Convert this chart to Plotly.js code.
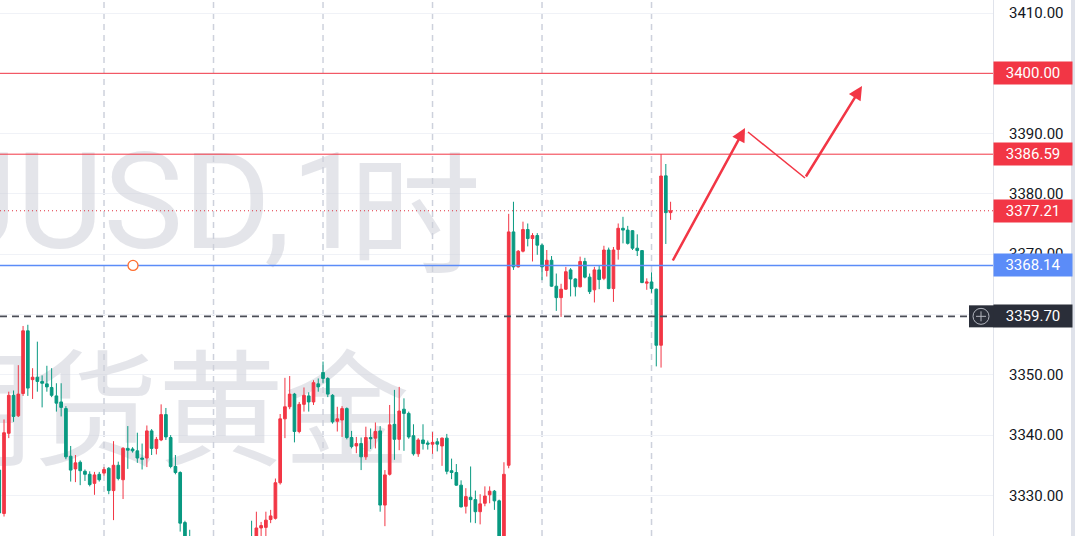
<!DOCTYPE html>
<html><head><meta charset="utf-8">
<script src="https://cdn.plot.ly/plotly-3.0.1.min.js"></script>
<style>html,body{margin:0;padding:0;background:#fff;overflow:hidden}#chart{width:1075px;height:536px}</style>
</head><body><div id="chart"></div>
<script>
// XAUUSD 1h candles (left part of the view)
const opens  = [3334.2,3327.0,3340.3,3346.6,3343.2,3346.9,3357.3,3349.2,3349.6,3348.9,3348.5,3347.9,3346.5,3345.5,3344.4,3336.5,3334.4,3335.5,3334.0,3333.5,
3332.0,3333.5,3333.7,3334.5,3330.8,3335.0,3332.6,3337.8,3337.7,3337.4,3336.2,3336.2,3340.7,3337.8,3339.2,3343.4,3339.6,3334.8,3333.8,3325.5,
3322.5,3320.0,3317.0,3318.5,3316.0,3315.0,3316.5,3315.0,3317.0,3318.5,3317.5,3319.5,3321.0,3323.0,3321.8,3324.6,3324.7,3326.0,3326.2,3332.1,
3342.7,3344.7,3346.8,3340.6,3345.1,3346.5,3345.5,3348.5,3350.4,3349.4,3346.6,3342.3,3342.5,3344.4,3339.6,3338.2,3338.6,3336.4,3339.6,3339.5,
3340.7,3328.4,3333.5,3341.8,3339.3,3344.3,3343.6,3339.9,3336.9,3339.2,3338.7,3338.5,3338.9,3338.2,3339.5,3334.1,3333.8,3331.7,3328.2,3329.7,
3329.3,3327.3,3328.7,3330.1,3330.7,3329.1,3321.5,3335.0,3373.7,3367.9,3370.5,3374.1,3372.6,3373.1,3371.5,3367.3,3369.0,3364.7,3362.8,3364.2,
3367.4,3365.9,3364.6,3368.8,3366.2,3364.1,3367.4,3366.0,3370.7,3364.3,3370.8,3374.3,3374.0,3373.9,3371.0,3370.6,3365.2,3365.4,3364.2,3354.9,
3383.0,3376.9];
const highs  = [3334.5,3342.6,3347.2,3347.4,3351.6,3358.1,3358.3,3351.1,3355.5,3349.9,3351.5,3351.1,3348.6,3348.6,3344.8,3338.2,3336.7,3335.8,3334.3,3334.0,
3333.9,3333.9,3334.7,3334.7,3339.0,3335.6,3338.0,3341.5,3338.0,3340.4,3338.6,3341.6,3341.0,3339.7,3345.1,3344.5,3340.0,3336.7,3334.0,3325.8,
3324.3,3321.5,3320.0,3319.5,3317.5,3318.0,3318.5,3318.8,3320.5,3320.0,3321.0,3322.5,3323.0,3325.8,3327.3,3325.6,3327.3,3327.6,3332.8,3343.5,
3349.5,3349.8,3347.0,3345.5,3347.9,3347.1,3349.1,3349.4,3352.2,3349.6,3346.8,3344.7,3344.8,3344.6,3340.7,3339.7,3339.6,3341.4,3341.1,3342.1,
3341.5,3334.2,3345.0,3347.5,3348.0,3346.1,3343.9,3341.8,3339.5,3341.8,3339.1,3340.5,3339.5,3339.6,3340.2,3336.1,3335.2,3332.5,3331.2,3334.8,
3330.8,3330.2,3331.5,3331.5,3330.9,3329.3,3335.5,3376.7,3378.7,3370.7,3375.4,3375.1,3373.5,3373.5,3371.8,3370.7,3369.7,3366.8,3365.1,3367.9,
3367.7,3366.0,3369.6,3369.4,3366.8,3367.9,3368.2,3371.4,3371.1,3371.2,3375.1,3376.2,3374.7,3374.0,3373.3,3370.7,3366.0,3367.0,3364.3,3386.59,
3384.96,3378.7];
const lows   = [3322.5,3326.5,3339.5,3342.2,3343.0,3346.5,3346.5,3346.0,3347.2,3344.6,3347.2,3346.3,3343.9,3343.1,3336.0,3332.3,3332.2,3331.7,3332.4,3331.5,
3330.1,3332.3,3333.3,3330.2,3325.9,3332.5,3329.4,3334.4,3337.1,3335.4,3334.3,3334.7,3336.7,3336.8,3339.0,3339.2,3334.5,3333.5,3324.0,3320.0,
3318.5,3315.5,3315.0,3314.0,3312.5,3313.5,3313.8,3314.0,3316.0,3316.2,3316.8,3318.5,3319.8,3320.5,3320.5,3322.8,3323.0,3325.4,3326.0,3331.8,
3339.5,3344.3,3338.8,3340.3,3343.9,3343.9,3345.0,3347.2,3348.6,3346.3,3341.9,3340.6,3339.7,3339.3,3337.8,3337.0,3334.2,3335.9,3337.7,3337.8,
3327.3,3324.9,3333.3,3335.9,3337.5,3337.4,3339.4,3336.6,3336.4,3337.6,3337.6,3336.9,3337.3,3334.9,3333.5,3332.7,3331.6,3328.0,3327.0,3325.5,
3325.4,3325.2,3328.2,3328.7,3327.6,3320.5,3320.8,3334.5,3367.4,3367.8,3370.3,3371.3,3368.8,3369.9,3365.7,3366.3,3364.6,3360.6,3359.6,3364.1,
3363.0,3363.0,3364.5,3366.0,3363.4,3362.0,3364.2,3365.7,3364.2,3362.1,3369.1,3371.8,3371.6,3370.7,3369.7,3365.2,3364.1,3363.6,3351.4,3351.2,
3371.7,3375.7];
const closes = [3327.1,3340.4,3346.6,3343.1,3346.8,3357.3,3347.8,3349.6,3348.9,3348.6,3348.0,3346.6,3345.3,3344.6,3336.4,3334.2,3335.4,3334.1,3333.5,3331.8,
3333.4,3332.6,3334.3,3330.8,3335.0,3332.8,3337.8,3337.5,3337.4,3336.2,3336.0,3340.7,3337.8,3339.3,3343.4,3339.7,3334.8,3333.8,3325.4,3322.5,
3320.0,3317.0,3318.5,3316.0,3314.5,3316.5,3315.0,3317.0,3318.5,3317.5,3319.5,3321.0,3322.5,3321.8,3324.6,3325.0,3325.9,3326.6,3332.1,3342.7,
3344.7,3346.8,3340.6,3345.1,3346.6,3345.5,3348.7,3348.0,3349.4,3346.8,3342.2,3342.7,3344.4,3339.6,3338.1,3338.6,3336.4,3339.6,3339.4,3340.6,
3328.4,3333.4,3341.7,3339.3,3344.0,3343.6,3339.7,3336.9,3339.2,3338.6,3338.5,3338.8,3338.5,3339.5,3334.0,3333.8,3331.7,3328.1,3329.8,3329.3,
3327.3,3328.6,3329.9,3330.7,3329.1,3321.5,3333.5,3373.7,3367.9,3370.5,3374.1,3372.6,3373.1,3371.5,3367.9,3369.0,3364.7,3362.8,3364.2,3367.1,
3365.9,3364.6,3368.8,3366.2,3363.8,3367.4,3365.8,3370.7,3364.3,3370.7,3374.3,3374.0,3371.8,3371.0,3370.6,3365.3,3365.4,3364.3,3354.9,3382.97,
3376.9,3377.21];
// first candle of each trading session (day separators)
const sessionStarts = [22,45,68,91,114,137];
// horizontal price levels drawn on the chart
const levelPrices = [3400.00, 3386.59, 3377.21, 3368.14, 3359.70];
const levelLabels = levelPrices.map(v => v.toFixed(2));
// watermark: symbol + interval, then description
const watermarkSymbol = 'XAUUSD,1';
const watermarkInterval = '时';
const watermarkDesc = '期货黄金';

const idx = opens.map((_, i) => i);
const PW = 993, PH = 536;
const px = p => p / PW, py = p => 1 - p / PH;
const RED = '#F23645', GREEN = '#089981', BLUE = '#5B8CF8', DARK = '#2A2E39';
const WM = 'rgba(205,208,216,0.55)';

const levelStyle = [
  {color: RED, width: 1, dash: 'solid', box: RED},
  {color: RED, width: 1, dash: 'solid', box: RED},
  {color: '#E0303F', width: 1, dash: '1px,3px', box: '#F23645'},
  {color: BLUE, width: 1.5, dash: 'solid', box: BLUE},
  {color: '#4A4D57', width: 1.6, dash: '7px,5px', box: DARK}
];

const wmBase = {type: 'scatter', mode: 'text', xaxis: 'x', yaxis: 'y', hoverinfo: 'skip', showlegend: false};
const traces = [
  Object.assign({}, wmBase, {x: [px(366)], y: [py(214)], text: [watermarkSymbol], textposition: 'middle left',
    textfont: {family: 'Roboto', size: 134, color: WM}}),
  Object.assign({}, wmBase, {x: [px(481)], y: [py(230)], text: [watermarkInterval], textposition: 'middle left',
    textfont: {family: 'Noto Sans CJK SC', size: 132, color: WM}}),
  Object.assign({}, wmBase, {x: [px(410)], y: [py(424)], text: [watermarkDesc], textposition: 'middle left',
    textfont: {family: 'Noto Sans CJK SC', size: 126, color: WM}}),
  {type: 'candlestick', xaxis: 'x2', yaxis: 'y2', x: idx,
   open: opens, high: highs, low: lows, close: closes,
   increasing: {line: {color: RED, width: 1}, fillcolor: RED},
   decreasing: {line: {color: GREEN, width: 1}, fillcolor: GREEN},
   whiskerwidth: 0, hoverinfo: 'skip', showlegend: false}
];

const shapes = [];
sessionStarts.forEach(s => shapes.push({type: 'line', xref: 'x2', yref: 'paper', x0: s, x1: s, y0: 0, y1: 1,
  layer: 'below', line: {color: 'rgba(200,204,216,0.9)', width: 1.5, dash: '6px,5px'}}));
levelPrices.forEach((v, i) => shapes.push({type: 'line', xref: 'paper', yref: 'y2', x0: 0, x1: 1, y0: v, y1: v,
  line: {color: levelStyle[i].color, width: levelStyle[i].width, dash: levelStyle[i].dash}}));
// crosshair icon next to the 3359.70 label
shapes.push({type: 'rect', xref: 'paper', yref: 'y2', x0: px(969), x1: px(994), ysizemode: 'pixel', yanchor: levelPrices[4],
  y0: -11, y1: 11, fillcolor: DARK, line: {width: 0}});
shapes.push({type: 'circle', xref: 'paper', yref: 'y2', xsizemode: 'pixel', ysizemode: 'pixel', xanchor: px(981), yanchor: levelPrices[4],
  x0: -8, x1: 8, y0: -8, y1: 8, line: {color: '#B2B5BE', width: 1}});
shapes.push({type: 'line', xref: 'paper', yref: 'y2', xsizemode: 'pixel', ysizemode: 'pixel', xanchor: px(981), yanchor: levelPrices[4],
  x0: -5, x1: 5, y0: 0, y1: 0, line: {color: '#B2B5BE', width: 1}});
shapes.push({type: 'line', xref: 'paper', yref: 'y2', xsizemode: 'pixel', ysizemode: 'pixel', xanchor: px(981), yanchor: levelPrices[4],
  x0: 0, x1: 0, y0: -5, y1: 5, line: {color: '#B2B5BE', width: 1}});
// handle on the blue line
shapes.push({type: 'circle', xref: 'paper', yref: 'y2', xsizemode: 'pixel', ysizemode: 'pixel', xanchor: px(133), yanchor: levelPrices[3],
  x0: -5, x1: 5, y0: -5, y1: 5, fillcolor: '#ffffff', line: {color: '#FF6D2E', width: 1.3}});
// drawn path segment
shapes.push({type: 'line', xref: 'paper', yref: 'paper', x0: px(748), y0: py(132), x1: px(805), y1: py(178),
  line: {color: RED, width: 1.5}});
// right scroll strip
shapes.push({type: 'rect', xref: 'paper', yref: 'paper', x0: px(1071), x1: px(1076), y0: 0, y1: 1,
  fillcolor: '#DFE2EA', line: {width: 0}});

const annotations = levelPrices.map((v, i) => ({
  xref: 'paper', yref: 'y2', x: 1, y: v, xanchor: 'left', yanchor: 'middle', showarrow: false,
  text: levelLabels[i], bgcolor: levelStyle[i].box, width: 74, height: 18, borderpad: 2, align: 'center',
  font: {family: 'Roboto', size: 15, color: '#ffffff'}
}));
annotations.push({xref: 'paper', yref: 'paper', x: px(745), y: py(128), ax: -73, ay: 134, text: '',
  showarrow: true, arrowhead: 2, arrowsize: 1.1, arrowwidth: 2.5, arrowcolor: RED});
annotations.push({xref: 'paper', yref: 'paper', x: px(862), y: py(86), ax: -57, ay: 92, text: '',
  showarrow: true, arrowhead: 2, arrowsize: 1.1, arrowwidth: 2.5, arrowcolor: RED});

const layout = {
  width: 1075, height: 536, margin: {l: 0, r: 1075 - PW, t: 0, b: 0},
  paper_bgcolor: '#ffffff', plot_bgcolor: '#ffffff', showlegend: false,
  boxgap: 0.25, boxgroupgap: 0.25,
  xaxis: {range: [0, 1], visible: false, fixedrange: true},
  yaxis: {range: [0, 1], visible: false, fixedrange: true},
  xaxis2: {overlaying: 'x', range: [0.155, 208.72], showgrid: false, zeroline: false,
           showticklabels: false, ticks: '', showline: false, rangeslider: {visible: false}},
  yaxis2: {overlaying: 'y', side: 'right', range: [3323.27, 3412.16], tick0: 3330, dtick: 10, tickformat: '.2f',
           showgrid: true, gridcolor: '#F0F2F7', gridwidth: 1, zeroline: false, showline: true, linecolor: '#E0E3EB',
           ticks: '', ticklabelstandoff: 12, tickfont: {family: 'Roboto', size: 15, color: '#131722'}},
  shapes: shapes, annotations: annotations
};

Plotly.newPlot('chart', traces, layout, {staticPlot: true, displayModeBar: false});
</script></body></html>
